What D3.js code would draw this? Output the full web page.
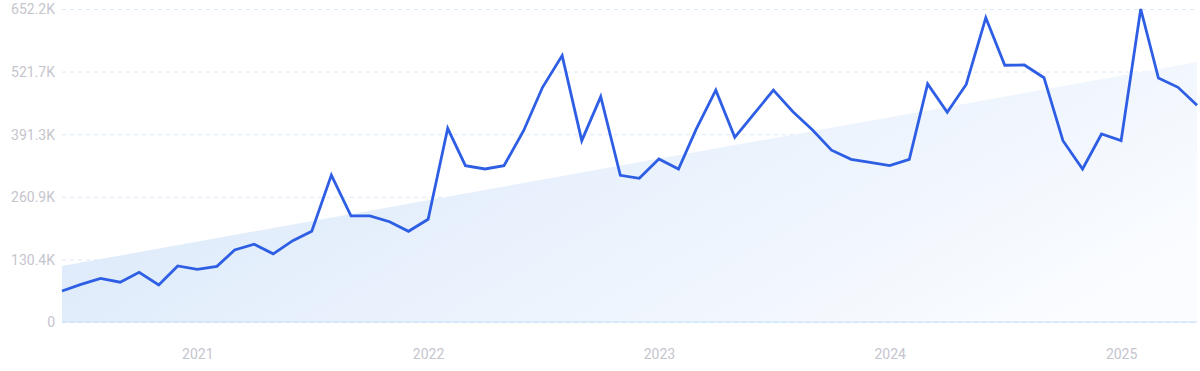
<!DOCTYPE html>
<html>
<head>
  <meta charset="utf-8">
  <script src="https://cdn.jsdelivr.net/npm/d3@7/dist/d3.min.js"></script>
  <style>
    body { margin: 0; background: #fff; }
    .tick text { font-family: Roboto, "Noto Sans", sans-serif; font-size: 14px; fill: #c5c5cd; }
  </style>
</head>
<body>
  <div id="chart"></div>
  <script>
    // monthly points, 2020-06 .. 2025-05
    const months = d3.timeMonths(new Date(2020, 5, 1), new Date(2025, 5, 1));
    const values = [
      64600, 78500, 91000, 83000, 103500, 77000, 116700,
      109800, 116000, 150000, 162000, 142000, 169400, 189000, 306000, 221000, 221000, 209000, 189000,
      214000, 403600, 325700, 318800, 325700, 398600, 489000, 555000, 377800, 469500, 305700, 299400,
      339600, 318800, 402000, 483000, 384800, 434800, 483000, 438000, 400000, 358000, 339000, 332700,
      325700, 339000, 496000, 437000, 495000, 634000, 535000, 535500, 509000, 377800, 318800, 391700,
      377800, 652150, 508400, 489000, 451500
    ];
    const trendStart = 116700;
    const trendEnd = 541800;
    const yMax = 652150;
    const yTicks = [0, 1, 2, 3, 4, 5].map(k => yMax * k / 5);
    const yLabels = ['0', '130.4K', '260.9K', '391.3K', '521.7K', '652.2K'];
    const xTicks = [2021, 2022, 2023, 2024, 2025].map(y => new Date(y, 0, 1));

    const data = months.map((d, i) => ({ date: d, value: values[i] }));

    const W = 1200, H = 371;
    const margin = { top: 9, right: 3, bottom: 49, left: 62 };
    const w = W - margin.left - margin.right;
    const h = H - margin.top - margin.bottom;

    const x = d3.scaleTime()
      .domain([months[0], months[months.length - 1]])
      .range([0, w]);
    const y = d3.scaleLinear()
      .domain([0, yMax])
      .range([h, 0]);

    const svg = d3.select('#chart').append('svg')
      .attr('width', W)
      .attr('height', H);

    const defs = svg.append('defs');
    const grad = defs.append('linearGradient')
      .attr('id', 'trendFill')
      .attr('x1', '0%').attr('y1', '30%')
      .attr('x2', '100%').attr('y2', '70%');
    grad.append('stop').attr('offset', '0%').attr('stop-color', '#dae8fa');
    grad.append('stop').attr('offset', '100%').attr('stop-color', '#fafcff');

    const g = svg.append('g')
      .attr('transform', `translate(${margin.left},${margin.top})`);

    // grid + y labels
    const yAxis = d3.axisLeft(y)
      .tickValues(yTicks)
      .tickFormat((d, i) => yLabels[i])
      .tickSize(-w)
      .tickPadding(7);
    const ya = g.append('g').call(yAxis);
    ya.select('.domain').remove();
    ya.selectAll('.tick line')
      .attr('stroke', '#dbe8f8')
      .attr('stroke-dasharray', '4,4');
    ya.selectAll('.tick text').attr('dy', '0.35em');

    // trend area
    const trend = [
      { date: months[0], value: trendStart },
      { date: months[months.length - 1], value: trendEnd }
    ];
    const area = d3.area()
      .x(d => x(d.date))
      .y0(y(0))
      .y1(d => y(d.value));
    g.append('path')
      .datum(trend)
      .attr('d', area)
      .attr('fill', 'url(#trendFill)');

    // baseline
    g.append('line')
      .attr('x1', 0).attr('x2', w)
      .attr('y1', y(0)).attr('y2', y(0))
      .attr('stroke', '#c3e0fa')
      .attr('stroke-width', 1.2);

    // x axis
    const xAxis = d3.axisBottom(x)
      .tickValues(xTicks)
      .tickFormat(d3.timeFormat('%Y'))
      .tickSize(0)
      .tickPadding(27);
    const xa = g.append('g')
      .attr('transform', `translate(0,${h})`)
      .call(xAxis);
    xa.select('.domain').remove();

    // line
    const line = d3.line()
      .x(d => x(d.date))
      .y(d => y(d.value));
    g.append('path')
      .datum(data)
      .attr('d', line)
      .attr('fill', 'none')
      .attr('stroke', '#2d5ee4')
      .attr('stroke-width', 2.8)
      .attr('stroke-linejoin', 'miter');
  </script>
</body>
</html>
